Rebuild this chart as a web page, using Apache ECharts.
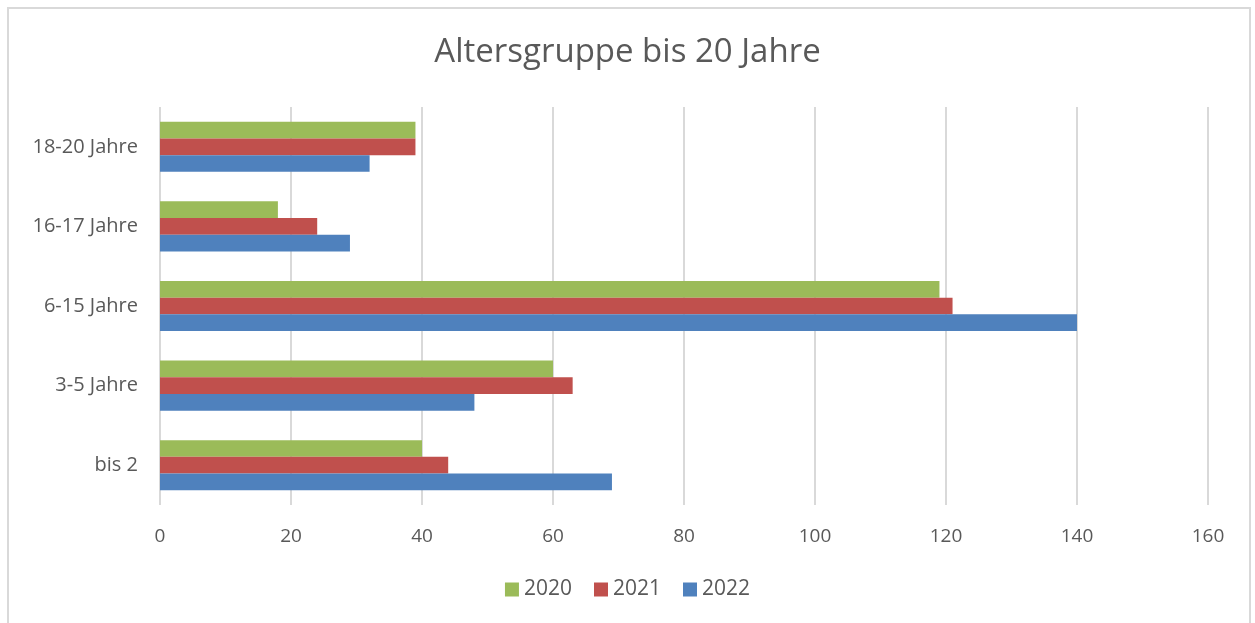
<!DOCTYPE html>
<html>
<head>
<meta charset="utf-8">
<script src="https://cdn.jsdelivr.net/npm/echarts@6/dist/echarts.min.js"></script>
<style>
    html, body { margin: 0; padding: 0; background: #fff; }
    #frame { position: absolute; left: 7px; top: 7px; width: 1244px; height: 630px; border: 2px solid #d9d9d9; box-sizing: border-box; }
    #chart { position: absolute; left: 0; top: 0; width: 1255px; height: 623px; }
</style>
</head>
<body>
<div id="frame"></div>
<div id="chart"></div>
<script>
    const categories = ['bis 2', '3-5 Jahre', '6-15 Jahre', '16-17 Jahre', '18-20 Jahre'];
    const years = ['2020', '2021', '2022'];
    const values2020 = [40, 60, 119, 18, 39];
    const values2021 = [44, 63, 121, 24, 39];
    const values2022 = [69, 48, 140, 29, 32];
    const colors = { '2020': '#9BBB59', '2021': '#C0504D', '2022': '#4F81BD' };

    const font = '"Open Sans", "Liberation Sans", sans-serif';
    const chart = echarts.init(document.getElementById('chart'));

    const seriesData = { '2020': values2020, '2021': values2021, '2022': values2022 };
    const series = years.map(year => ({
        name: year,
        type: 'bar',
        data: seriesData[year],
        barGap: '0%',
        barCategoryGap: '37%',
        itemStyle: { color: colors[year] },
        animation: false
    }));

    chart.setOption({
        title: {
            text: 'Altersgruppe bis 20 Jahre',
            left: 'center',
            top: 31,
            textStyle: { fontFamily: font, fontSize: 33, fontWeight: 'normal', color: '#595959' }
        },
        legend: {
            data: years,
            bottom: 18,
            left: 'center',
            itemWidth: 14,
            itemHeight: 14,
            itemGap: 22,
            icon: 'rect',
            textStyle: { fontFamily: font, fontSize: 21, color: '#595959' }
        },
        grid: { left: 160, right: 47, top: 107, bottom: 118 },
        xAxis: {
            type: 'value',
            min: 0,
            max: 160,
            interval: 20,
            axisLine: { show: false },
            axisTick: { show: false },
            axisLabel: { fontFamily: font, fontSize: 19, color: '#595959', margin: 22 },
            splitLine: { lineStyle: { color: '#d9d9d9', width: 2 } }
        },
        yAxis: {
            type: 'category',
            data: categories,
            axisLine: { show: false },
            axisTick: { show: false },
            axisLabel: { fontFamily: font, fontSize: 20, color: '#595959', margin: 22 }
        },
        series: series
    });
</script>
</body>
</html>
